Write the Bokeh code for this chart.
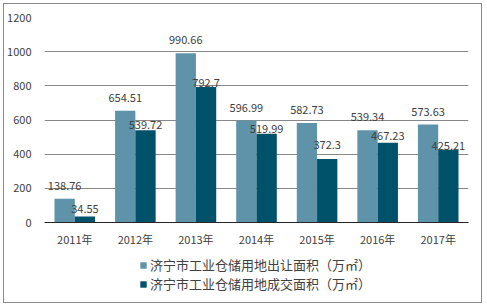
from bokeh.plotting import figure
from bokeh.layouts import column
from bokeh.models import ColumnDataSource, Legend, LegendItem, FixedTicker, FactorRange
from bokeh.transform import dodge
from bokeh.core.properties import value
from bokeh.embed import file_html
from bokeh.resources import INLINE

years = ["2011年", "2012年", "2013年", "2014年", "2015年", "2016年", "2017年"]
supply = [138.76, 654.51, 990.66, 596.99, 582.73, 539.34, 573.63]
deal = [34.55, 539.72, 792.7, 519.99, 372.3, 467.23, 425.21]
y_ticks = [0, 200, 400, 600, 800, 1000, 1200]
name_supply = "济宁市工业仓储用地出让面积（万㎡）"
name_deal = "济宁市工业仓储用地成交面积（万㎡）"

# label placement (style only)
supply_off = [-13] * 7
deal_off = [-8, -5, -4, -5, -14, -7, -4]

FONT = "Noto Sans CJK SC"
TXT = "#404040"
C1 = "#5E93A9"
C2 = "#00516A"

src = ColumnDataSource(dict(
    years=years, supply=supply, deal=deal,
    supply_label=[str(v) for v in supply],
    deal_label=[str(v) for v in deal],
    supply_off=supply_off, deal_off=deal_off,
))

p = figure(x_range=years, y_range=(0, 1200), width=477, height=250,
           output_backend="svg", toolbar_location=None,
           min_border_left=38, min_border_right=13, min_border_top=13,
           min_border_bottom=32)
p.outline_line_color = None

bw = 0.335
p.vbar(x=dodge("years", -bw / 2, range=p.x_range), top="supply", width=bw,
       color=C1, line_color=None, source=src)
p.vbar(x=dodge("years", bw / 2, range=p.x_range), top="deal", width=bw,
       color=C2, line_color=None, source=src)

p.text(x=dodge("years", -bw / 2, range=p.x_range), y="supply", text="supply_label",
       y_offset="supply_off", text_align="center", text_baseline="middle",
       text_font=value(FONT), text_font_size="11px", text_color=TXT, source=src)
p.text(x=dodge("years", bw / 2, range=p.x_range), y="deal", text="deal_label",
       y_offset="deal_off", text_align="center", text_baseline="middle",
       text_font=value(FONT), text_font_size="11px", text_color=TXT, source=src)

p.xgrid.grid_line_color = None
p.ygrid.grid_line_color = "#888888"
p.ygrid.ticker = FixedTicker(ticks=y_ticks)
p.yaxis.ticker = FixedTicker(ticks=y_ticks)

for ax in (p.xaxis, p.yaxis):
    ax.major_tick_line_color = None
    ax.minor_tick_line_color = None
    ax.major_tick_out = 0
    ax.major_tick_in = 0
    ax.minor_tick_out = 0
    ax.major_label_text_font = FONT
    ax.major_label_text_font_size = "11px"
    ax.major_label_text_color = TXT
p.yaxis.axis_line_color = None
p.yaxis.major_label_standoff = 13
p.xaxis.axis_line_color = "#262626"
p.xaxis.major_label_standoff = 8

# legend strip below the chart (its frame is aligned with the chart frame)
lg = figure(width=477, height=48, output_backend="svg", toolbar_location=None,
            min_border=0, x_range=FactorRange(*years), y_range=(0, 1200),
            x_axis_type=None, y_axis_type=None)
lg.grid.visible = False
lg.outline_line_color = None
e1 = lg.vbar(x="years", top="supply", width=0.3, color=C1, line_color=None,
             source=src, visible=False)
e2 = lg.vbar(x="years", top="deal", width=0.3, color=C2, line_color=None,
             source=src, visible=False)
legend = Legend(items=[LegendItem(label=name_supply, renderers=[e1]),
                       LegendItem(label=name_deal, renderers=[e2])],
                location=(95, 9), orientation="vertical",
                glyph_width=8, glyph_height=8, label_height=14, spacing=0,
                label_standoff=3, padding=0, margin=0,
                label_text_font=FONT, label_text_font_size="13px",
                label_text_color=TXT, border_line_color=None,
                background_fill_alpha=0, inactive_fill_alpha=0)
lg.add_layout(legend, "center")

layout = column(p, lg, spacing=0, margin=(3, 3, 3, 3),
                styles={"border": "1px solid #8a8a8a"})

open("out.html", "w").write(file_html(layout, INLINE))
